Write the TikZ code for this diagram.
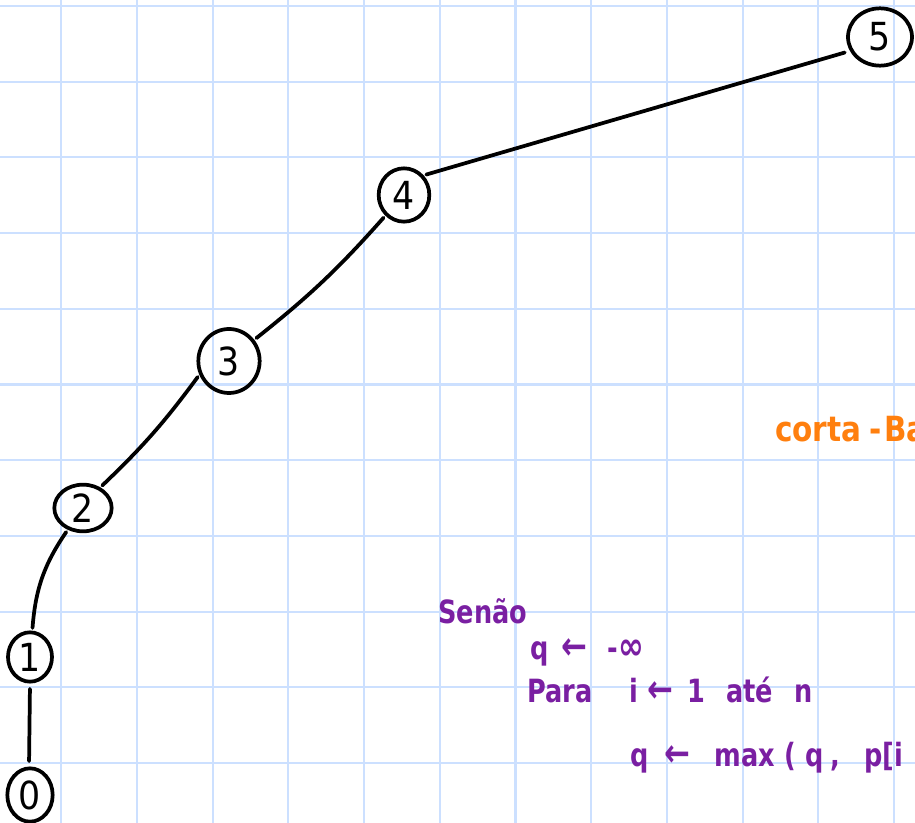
\documentclass[tikz,border=0pt]{standalone}
\usepackage{fontspec}
\setmainfont{DejaVu Sans}
\usetikzlibrary{shapes.geometric}
\definecolor{gridblue}{HTML}{CCE0FF}
\definecolor{penorange}{HTML}{FF7F0E}
\definecolor{penpurple}{HTML}{7A1FA2}
\newcommand{\bigsym}[1]{{\fontsize{29}{22}\selectfont #1}}
\tikzset{
  gridline/.style={draw=gridblue, line width=1.6pt},
  vert/.style={ellipse, draw=black, line width=2.8pt, inner sep=0pt, font=\fontsize{29}{29}\selectfont\addfontfeatures{FakeStretch=0.9}},
  edge/.style={draw=black, line width=2.8pt, line cap=round},
  pseudo/.style={text=penpurple, font=\bfseries\fontsize{24}{24}\selectfont\addfontfeatures{FakeStretch=0.8}, anchor=base west, inner sep=0pt},
  note/.style={text=penorange, font=\bfseries\fontsize{26}{26}\selectfont\addfontfeatures{FakeStretch=0.85}, anchor=base west, inner sep=0pt}
}
\begin{document}
\begin{tikzpicture}[x=0.75pt, y=-0.75pt]
\useasboundingbox (0,0) rectangle (915,823);
\clip (0,0) rectangle (915,823);
\fill[white] (0,0) rectangle (915,823);
\foreach \k in {0,...,11} {
  \draw[gridline] ({61.3+75.7*\k},0) -- ({61.3+75.7*\k},823);
}
\foreach \k in {0,...,10} {
  \draw[gridline] (0,{6+75.7*\k}) -- (915,{6+75.7*\k});
}
\node[vert, minimum width=34pt, minimum height=40pt] (n0) at (30,795) {0};
\node[vert, minimum width=33pt, minimum height=37pt] (n1) at (30,657) {1};
\node[vert, minimum width=43pt, minimum height=35pt] (n2) at (83,508) {2};
\node[vert, minimum width=46pt, minimum height=48pt] (n3) at (229,361) {3};
\node[vert, minimum width=38pt, minimum height=40pt] (n4) at (404,195) {4};
\node[vert, minimum width=48pt, minimum height=43pt] (n5) at (880,37) {5};
\draw[edge, shorten <=4pt, shorten >=4pt] (n0.92) -- (n1.270);
\draw[edge, shorten <=2pt, shorten >=2pt] (n1.85) to[bend left=15] (n2.235);
\draw[edge, shorten <=2pt, shorten >=2pt] (n2.50) to[bend right=5] (n3.205);
\draw[edge, shorten <=2pt, shorten >=2pt] (n3.40) to[bend right=5] (n4.228);
\draw[edge, shorten <=2pt, shorten >=4pt] (n4.45) -- (n5.205);
\node[note] (cb) at (775,442) {corta\hspace{6pt}-\hspace{2pt}Ba};
\node[pseudo] (l1) at (438,624) {Senão};
\node[pseudo] (l2) at (530,660) {q\hspace{10pt}\bigsym{←}\hspace{15pt}-\bigsym{∞}};
\node[pseudo] (l3) at (527,702) {Para\hspace{28pt}i\hspace{7pt}\bigsym{←}\hspace{10pt}1\hspace{16pt}até\hspace{16pt}n};
\node[pseudo] (l4) at (630,766) {q\hspace{12pt}\bigsym{←}\hspace{18pt}max\hspace{7pt}(\hspace{7pt}q\hspace{5pt},\hspace{18pt}p[i};
\end{tikzpicture}
\end{document}
